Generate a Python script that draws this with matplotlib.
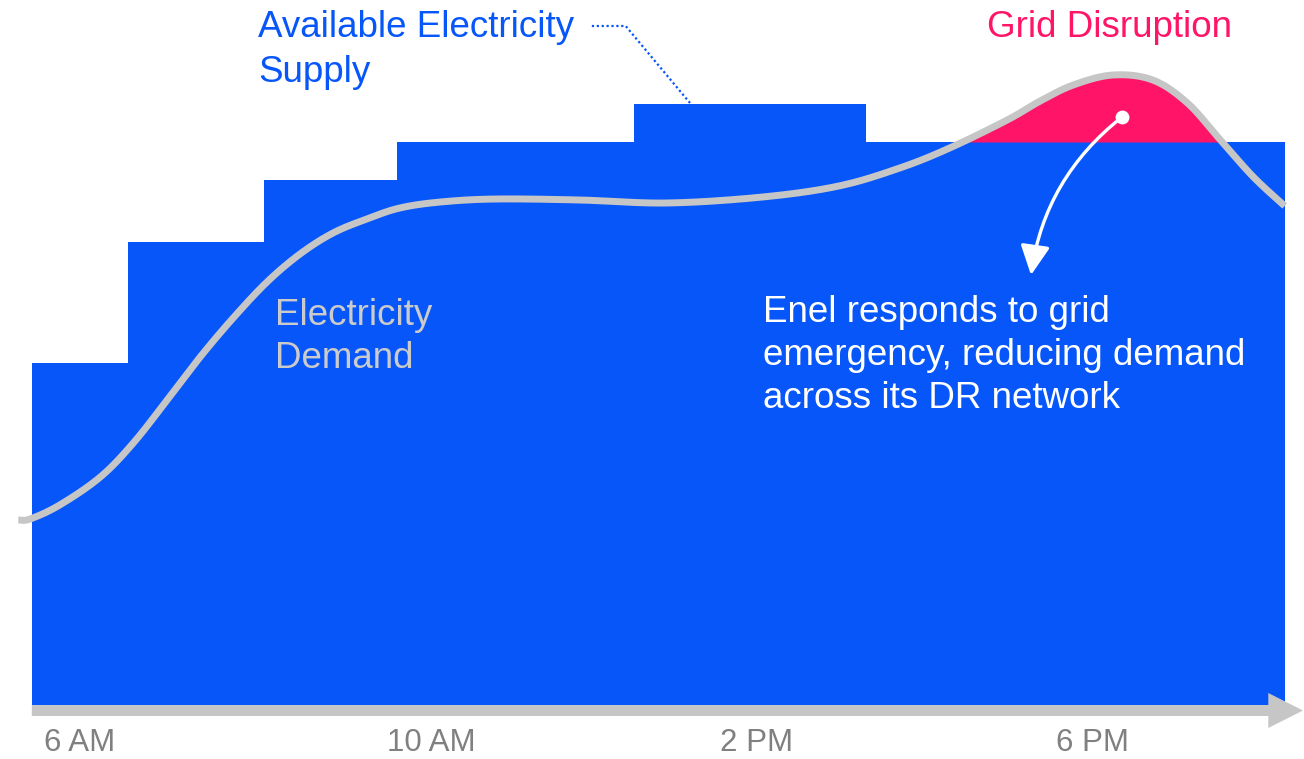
import matplotlib.pyplot as plt
import numpy as np

plt.rcParams['font.family'] = ['Liberation Sans', 'DejaVu Sans']

# supply steps: edges in hours of the day, level of each step
supply_edges = [5.43, 6.57, 8.17, 9.75, 12.55, 15.29, 20.24]
supply_levels = [34.2, 46.3, 52.5, 56.3, 60.1, 56.3]

# demand curve (hour, level)
demand_hours = [5.27, 5.41, 5.76, 6.24, 6.63, 7.03, 7.42, 7.81, 8.21, 8.60,
                8.99, 9.39, 9.78, 10.26, 10.91, 11.91, 12.94, 14.07, 14.97,
                15.69, 16.28, 16.96, 17.35, 17.74, 18.21, 18.68, 19.09, 19.48,
                19.87, 20.24]
demand_values = [18.5, 18.6, 20.0, 22.8, 26.2, 30.5, 34.8, 38.7, 42.3, 45.1,
                 47.2, 48.6, 49.7, 50.3, 50.6, 50.5, 50.2, 50.8, 51.9,
                 53.7, 55.7, 58.5, 60.4, 62.0, 63.0, 62.5, 60.2, 56.5,
                 52.8, 49.9]

tick_hours = [6.0, 10.15, 14.0, 17.97]
tick_labels = ['6 AM', '10 AM', '2 PM', '6 PM']

BLUE = '#0756FA'
PINK = '#FF1467'
GRAY = '#C6C6C6'


def catmull_rom(x, y, n=20):
    # smooth path through the read points, for drawing only
    p = np.column_stack([x, y])
    p = np.vstack([p[0], p, p[-1]])
    out = []
    t = np.linspace(0, 1, n, endpoint=False)[:, None]
    for i in range(1, len(p) - 2):
        p0, p1, p2, p3 = p[i - 1], p[i], p[i + 1], p[i + 2]
        seg = 0.5 * ((2 * p1) + (-p0 + p2) * t
                     + (2 * p0 - 5 * p1 + 4 * p2 - p3) * t ** 2
                     + (-p0 + 3 * p1 - 3 * p2 + p3) * t ** 3)
        out.append(seg)
    out.append(p[-2][None, :])
    out = np.vstack(out)
    return out[:, 0], out[:, 1]


fig = plt.figure(figsize=(13.04, 7.59), dpi=100)
ax = fig.add_axes([0, 0, 1, 1])
ax.set_xlim(5.054, 20.468)
ax.set_ylim(-5.4, 70.5)
ax.axis('off')

# available supply
ax.stairs(supply_levels, supply_edges, baseline=0, fill=True, color=BLUE, lw=0)

# demand curve + overshoot above supply
dx, dy = catmull_rom(demand_hours, demand_values)
idx = np.clip(np.searchsorted(supply_edges, dx, side='right') - 1, 0, len(supply_levels) - 1)
sup = np.array(supply_levels)[idx]
ax.fill_between(dx, sup, dy, where=(dy > sup) & (dx > supply_edges[-2]),
                interpolate=True, color=PINK, lw=0)
ax.plot(dx, dy, color=GRAY, lw=5, solid_capstyle='butt', solid_joinstyle='round')

# time axis arrow
ax.arrow(supply_edges[0], -0.55, 20.456 - supply_edges[0], 0, width=1.1,
         head_width=3.5, head_length=0.41, length_includes_head=True,
         color=GRAY, lw=0)
for h, lab in zip(tick_hours, tick_labels):
    ax.text(h, -4.6, lab, ha='center', va='baseline', fontsize=22.5, color='#808080')

# labels
def lines(x, y0, txt, color, step=4.4):
    for i, t in enumerate(txt):
        ax.text(x, y0 - i * step, t, ha='left', va='baseline', fontsize=26.5, color=color)

lines(8.104, 66.8, ['Available Electricity', 'Supply'], BLUE, step=4.5)
lines(8.305, 38.0, ['Electricity', 'Demand'], '#CBCBCB', step=4.3)
lines(16.72, 66.8, ['Grid Disruption'], PINK)
lines(14.073, 38.3, ['Enel responds to grid', 'emergency, reducing demand',
                     'across its DR network'], 'white', step=4.3)

# dotted leader to supply
ax.plot([12.05, 12.45, 13.21], [67.9, 67.9, 60.2], color=BLUE, lw=1.6,
        linestyle=(0, (1, 1.2)))

# white callout arrow
ax.plot([18.317], [58.8], 'o', color='white', ms=10, mec='none')
ax.annotate('', xy=(17.241, 43.0), xytext=(18.317, 58.8),
            arrowprops=dict(arrowstyle='-|>,head_length=0.9,head_width=0.45',
                            connectionstyle='arc3,rad=0.2', color='white',
                            lw=2.4, shrinkA=0, shrinkB=0, mutation_scale=20))

fig.savefig('out.png', dpi=100)
